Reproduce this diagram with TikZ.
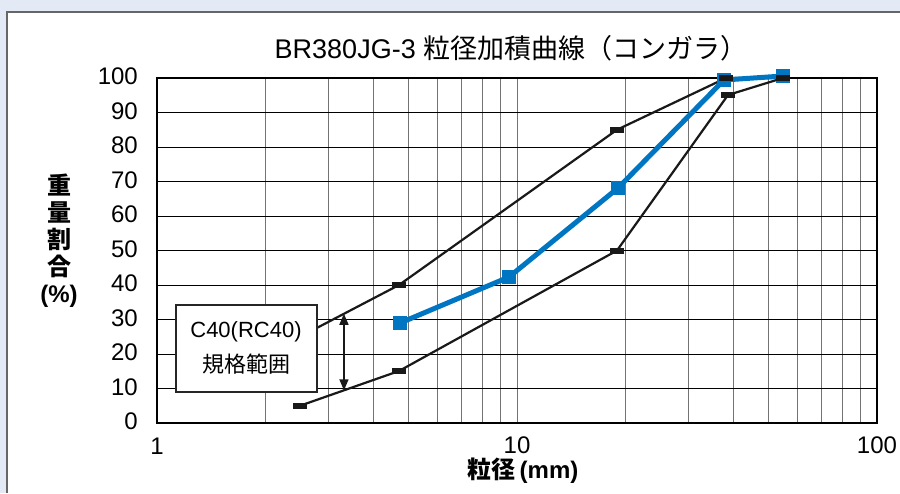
\documentclass[tikz,border=0pt]{standalone}
\usepackage{fontspec}
\setmainfont{Liberation Sans}
\newfontfamily\jp{Noto Sans CJK JP}
\usetikzlibrary{arrows.meta,calc}
\definecolor{bgblue}{HTML}{E3E9F5}
\definecolor{lineblue}{HTML}{0075C1}
\tikzset{
  gridv/.style={black!55, line width=1pt},
  gridh/.style={black, line width=0.9pt},
  curve/.style={black!90, line width=2.2pt},
  blk/.style={fill=black!90, minimum width=14pt, minimum height=6pt, inner sep=0pt},
  sq/.style={fill=lineblue, minimum size=14pt, inner sep=0pt},
  lbl/.style={font=\fontsize{24}{28}\selectfont, inner sep=0pt},
}
\begin{document}
\begin{tikzpicture}[x=1pt,y=-1pt]
	\useasboundingbox (0,0) rectangle (900,493);
	\fill[bgblue] (0,0) rectangle (900,493);
	\fill[white] (7,12) rectangle (900,493);
	\draw[black!60, line width=1.2pt] (7,493)--(7,12)--(900,12);
	\foreach \k in {2,...,9} {
		\draw[gridv] ({157+360*log10(\k)},78)--++(0,345);
		\draw[gridv] ({517+360*log10(\k)},78)--++(0,345);
	}
	\draw[gridv] (517,78)--(517,423);
	\foreach \v in {1,...,9} \draw[gridh] (157,{423-34.5*\v})--(877,{423-34.5*\v});
	\draw[line width=2.5pt] (157,78) rectangle (877,423);
	\coordinate (l1) at (300,405.75);
	\coordinate (l2) at (399,371);
	\coordinate (l3) at (617,250.5);
	\coordinate (l4) at (728,95);
	\coordinate (l5) at (783,78);
	\coordinate (u1) at (300,336.75);
	\coordinate (u2) at (399,285);
	\coordinate (u3) at (617,129.75);
	\coordinate (u4) at (726,78);
	\coordinate (b1) at (400,323);
	\coordinate (b2) at (509,277);
	\coordinate (b3) at (618,188);
	\coordinate (b4) at (724,80);
	\coordinate (b5) at (783,76);
	\draw[curve] (l1)--(l2)--(l3)--(l4)--(l5);
	\draw[curve] (u1)--(u2)--(u3)--(u4)--(l5);
	\draw[lineblue, line width=5pt, line join=round] (b1)--(b2)--(b3)--(b4)--(b5);
	\foreach \p in {b1,b2,b3,b4,b5} \node[sq] (m\p) at (\p) {};
	\foreach \p in {l1,l2,l3,l4,l5,u2,u3,u4} \node[blk] (m\p) at (\p) {};
	\node[draw=black!85, line width=2pt, fill=white, minimum width=141pt, minimum height=87pt, align=center, font=\fontsize{22}{35}\selectfont] (spec) at (246,348) {C40(RC40)\\{\jp 規格範囲}};
	\coordinate (ta) at ($(u1)!0.444!(u2)$);
	\coordinate (tb) at ($(l1)!0.444!(l2)$);
	\draw[black!90, line width=1.5pt, {Triangle[width=9pt,length=11pt]}-{Triangle[width=9pt,length=11pt]}] (ta)--(tb);
	\foreach \v in {0,10,...,100} \node[lbl, anchor=east] (y\v) at (138,{421.5-3.45*\v}) {\v};
	\node[lbl] (x1) at (157,446) {1};
	\node[lbl] (x10) at (517,445) {10};
	\node[lbl] (x100) at (877,445) {100};
	\node[lbl, font=\fontsize{24}{28}\selectfont\bfseries] (xt) at (523,471) {{\jp 粒径}\,(mm)};
	\node[lbl, align=center, font=\fontsize{24}{27}\selectfont\bfseries] (yt) at (59,241) {{\jp 重}\\{\jp 量}\\{\jp 割}\\{\jp 合}\\(\%)};
	\node[lbl, font=\fontsize{27}{32}\selectfont] (title) at (511,48) {BR380JG-3 {\jp 粒径加積曲線（コンガラ）}};
\end{tikzpicture}
\end{document}
